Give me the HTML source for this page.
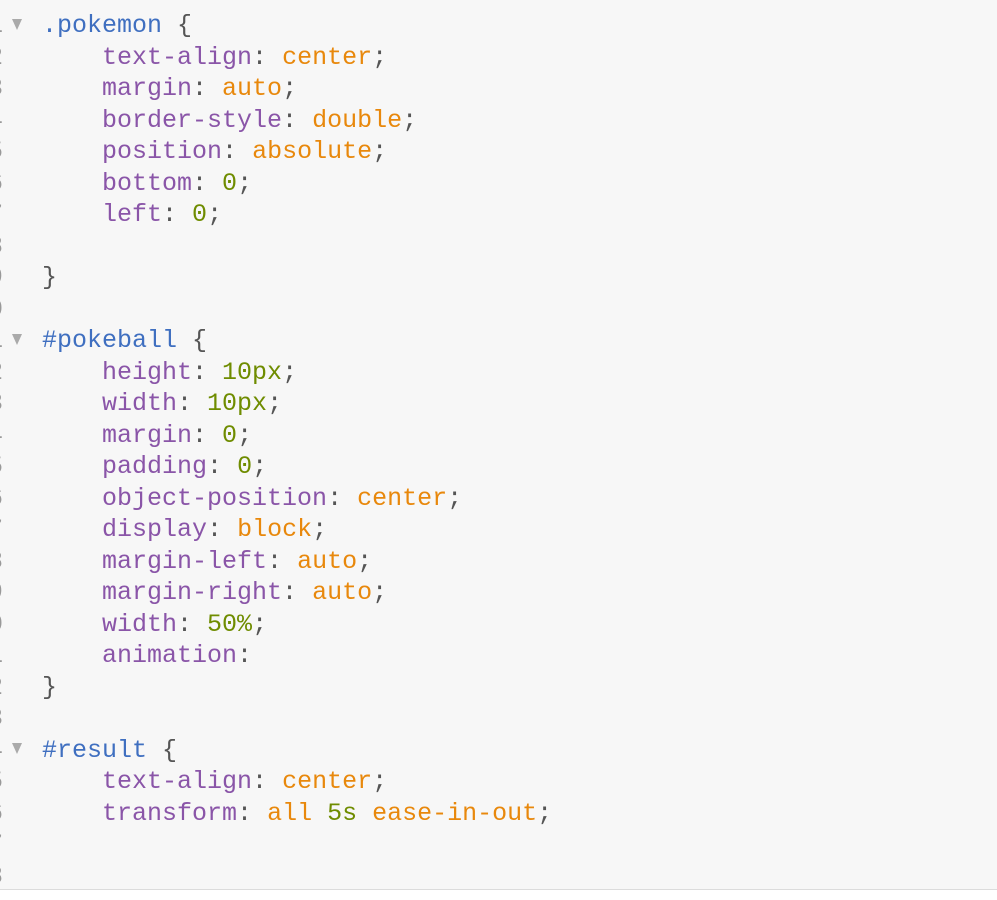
<!DOCTYPE html>
<html><head><meta charset="utf-8"><style>
html,body{margin:0;padding:0;width:997px;height:900px;overflow:hidden;background:#fff;}
#ed{position:absolute;left:0;top:0;width:997px;height:889px;background:#f7f7f7;border-bottom:1px solid #dcdcdc;}
#in{position:absolute;left:0;top:2px;width:997px;height:887px;}
.l{position:absolute;left:42px;height:31.5px;line-height:31.5px;font-family:"Liberation Mono",monospace;font-size:25px;white-space:pre;color:#555;}
.n{position:absolute;right:994px;height:31.5px;line-height:31.5px;font-family:"Liberation Mono",monospace;font-size:25px;color:#999;text-align:right;}
.a{position:absolute;left:12px;width:0;height:0;border-left:5px solid transparent;border-right:5px solid transparent;border-top:11px solid #aaa;}
.s{color:#3f6fc0}.p{color:#8a55a8}.v{color:#e8880c}.g{color:#6f8c00}
</style></head><body><div id="ed"><div id="in">
<div class="n" style="top:8px">1</div><div class="n" style="top:39.5px">2</div><div class="n" style="top:71px">3</div><div class="n" style="top:102.5px">4</div><div class="n" style="top:134px">5</div><div class="n" style="top:165.5px">6</div><div class="n" style="top:197px">7</div><div class="n" style="top:228.5px">8</div><div class="n" style="top:260px">9</div><div class="n" style="top:291.5px">0</div><div class="n" style="top:323px">1</div><div class="n" style="top:354.5px">2</div><div class="n" style="top:386px">3</div><div class="n" style="top:417.5px">4</div><div class="n" style="top:449px">5</div><div class="n" style="top:480.5px">6</div><div class="n" style="top:512px">7</div><div class="n" style="top:543.5px">8</div><div class="n" style="top:575px">9</div><div class="n" style="top:606.5px">0</div><div class="n" style="top:638px">1</div><div class="n" style="top:669.5px">2</div><div class="n" style="top:701px">3</div><div class="n" style="top:732.5px">4</div><div class="n" style="top:764px">5</div><div class="n" style="top:795.5px">6</div><div class="n" style="top:827px">7</div><div class="n" style="top:858.5px">8</div>
<div class="a" style="top:17px"></div><div class="a" style="top:332px"></div><div class="a" style="top:741px"></div>
<div class="l" style="top:8px"><span class="s">.pokemon</span> {</div>
<div class="l" style="top:39.5px">    <span class="p">text-align</span>: <span class="v">center</span>;</div>
<div class="l" style="top:71px">    <span class="p">margin</span>: <span class="v">auto</span>;</div>
<div class="l" style="top:102.5px">    <span class="p">border-style</span>: <span class="v">double</span>;</div>
<div class="l" style="top:134px">    <span class="p">position</span>: <span class="v">absolute</span>;</div>
<div class="l" style="top:165.5px">    <span class="p">bottom</span>: <span class="g">0</span>;</div>
<div class="l" style="top:197px">    <span class="p">left</span>: <span class="g">0</span>;</div>
<div class="l" style="top:260px">}</div>
<div class="l" style="top:323px"><span class="s">#pokeball</span> {</div>
<div class="l" style="top:354.5px">    <span class="p">height</span>: <span class="g">10px</span>;</div>
<div class="l" style="top:386px">    <span class="p">width</span>: <span class="g">10px</span>;</div>
<div class="l" style="top:417.5px">    <span class="p">margin</span>: <span class="g">0</span>;</div>
<div class="l" style="top:449px">    <span class="p">padding</span>: <span class="g">0</span>;</div>
<div class="l" style="top:480.5px">    <span class="p">object-position</span>: <span class="v">center</span>;</div>
<div class="l" style="top:512px">    <span class="p">display</span>: <span class="v">block</span>;</div>
<div class="l" style="top:543.5px">    <span class="p">margin-left</span>: <span class="v">auto</span>;</div>
<div class="l" style="top:575px">    <span class="p">margin-right</span>: <span class="v">auto</span>;</div>
<div class="l" style="top:606.5px">    <span class="p">width</span>: <span class="g">50%</span>;</div>
<div class="l" style="top:638px">    <span class="p">animation</span>:</div>
<div class="l" style="top:669.5px">}</div>
<div class="l" style="top:732.5px"><span class="s">#result</span> {</div>
<div class="l" style="top:764px">    <span class="p">text-align</span>: <span class="v">center</span>;</div>
<div class="l" style="top:795.5px">    <span class="p">transform</span>: <span class="v">all</span> <span class="g">5s</span> <span class="v">ease-in-out</span>;</div>
</div></div></body></html>
